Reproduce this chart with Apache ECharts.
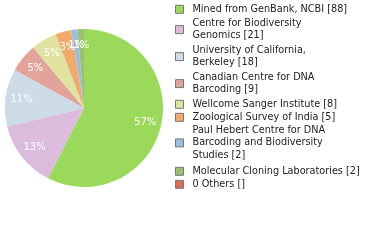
<!DOCTYPE html>
<html><head><meta charset="utf-8">
<script src="https://cdn.jsdelivr.net/npm/echarts@6/dist/echarts.min.js"></script>
<style>html,body{margin:0;padding:0;background:#fff}#c{width:380px;height:240px}</style>
</head><body><div id="c"></div>
<script>
const names = ['Mined from GenBank, NCBI','Centre for Biodiversity Genomics','University of California, Berkeley','Canadian Centre for DNA Barcoding','Wellcome Sanger Institute','Zoological Survey of India','Paul Hebert Centre for DNA Barcoding and Biodiversity Studies','Molecular Cloning Laboratories','0 Others'];
const legendLabels = ['Mined from GenBank, NCBI [88]','Centre for Biodiversity\nGenomics [21]','University of California,\nBerkeley [18]','Canadian Centre for DNA\nBarcoding [9]','Wellcome Sanger Institute [8]','Zoological Survey of India [5]','Paul Hebert Centre for DNA\nBarcoding and Biodiversity\nStudies [2]','Molecular Cloning Laboratories [2]','0 Others []'];
const values = [88,21,18,9,8,5,2,2,0];
const colors = ['#9ad95a','#dcbcdc','#cddbe6','#e2a49a','#e0e3a0','#f0aa6c','#9bbde0','#9cc073','#dd6a55'];
// layout: top of each legend entry (px)
const legendTops = [3,17,44,71,98,111,124,165,178];
const total = values.reduce((a,b)=>a+b,0);
const chart = echarts.init(document.getElementById('c'));
const legends = names.map((n,i)=>({
  orient:'vertical', left:175, top:legendTops[i], padding:0, itemWidth:8, itemHeight:8,
  icon:'rect', selectedMode:false,
  itemStyle:{borderColor:'#777',borderWidth:1},
  textStyle:{fontFamily:'DejaVu Sans',fontSize:9.7,color:'#222',lineHeight:12.6,padding:[0,0,0,4]},
  formatter: nm => legendLabels[names.indexOf(nm)],
  data:[n]
}));
chart.setOption({
  animation:false,
  legend: legends,
  series:[
    {type:'pie', radius:79, center:[84,108], startAngle:90, clockwise:true, silent:true,
     label:{show:false}, labelLine:{show:false},
     data: names.map((n,i)=>({name:n,value:values[i],itemStyle:{color:colors[i]}}))},
    {type:'pie', radius:[41,79], center:[84,108], startAngle:90, clockwise:true, silent:true,
     legendHoverLink:false,
     labelLayout:{hideOverlap:false},
     label:{position:'inside', color:'#fff', fontFamily:'DejaVu Sans', fontSize:10,
       formatter: p => p.value>0 ? Math.floor(p.value/total*100)+'%' : ''},
     labelLine:{show:false},
     data: names.map((n,i)=>({name:n,value:values[i],itemStyle:{color:'rgba(0,0,0,0)'}}))}
  ]
});
</script></body></html>
